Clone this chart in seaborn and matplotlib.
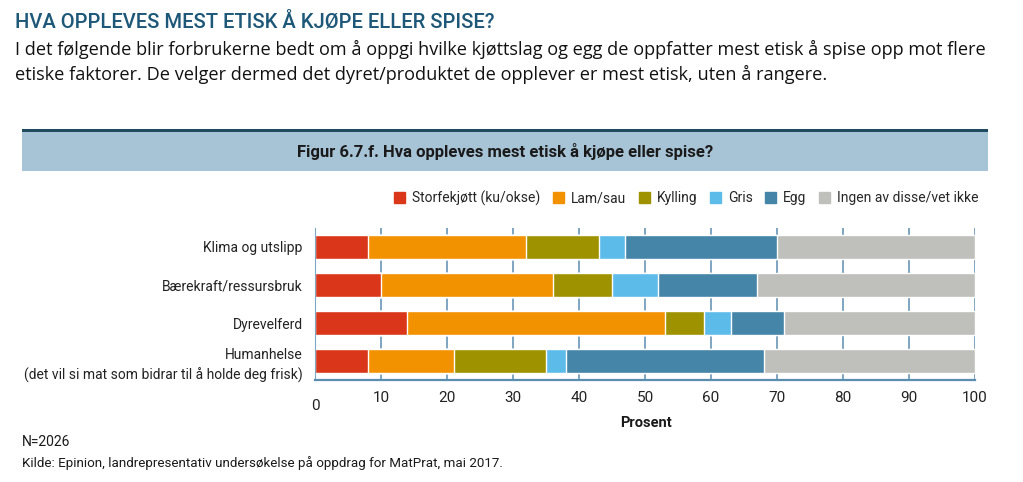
import matplotlib
matplotlib.use("Agg")
import matplotlib.pyplot as plt
import matplotlib.patches as mpatches
import seaborn as sns
import numpy as np
import pandas as pd

# Data
categories = ["Klima og utslipp", "Bærekraft/ressursbruk", "Dyrevelferd",
              "Humanhelse\n(det vil si mat som bidrar til å holde deg frisk)"]
series_names = ["Storfekjøtt (ku/okse)", "Lam/sau", "Kylling", "Gris", "Egg",
                "Ingen av disse/vet ikke"]
storfe = [8, 10, 14, 8]
lam = [24, 26, 39, 13]
kylling = [11, 9, 6, 14]
gris = [4, 7, 4, 3]
egg = [23, 15, 8, 30]
ingen = [30, 33, 29, 32]
colors = ["#d9361a", "#f39200", "#9e9200", "#5dbbea", "#4585a8", "#bfbfbb"]
xticks = [0, 10, 20, 30, 40, 50, 60, 70, 80, 90, 100]

sns.set_style("white")
plt.rcParams["font.family"] = ["Roboto", "DejaVu Sans"]

fig = plt.figure(figsize=(10.23, 4.82), dpi=100)
ax = fig.add_axes([0.308, 0.2116, 0.645, 0.3154])

# stacked bars: draw cumulative totals from the back
values = [storfe, lam, kylling, gris, egg, ingen]
cum = np.cumsum(np.array(values), axis=0)
for i in reversed(range(len(values))):
    df = pd.DataFrame({"cat": categories, "val": cum[i]})
    sns.barplot(data=df, x="val", y="cat", color=colors[i], width=0.64,
                saturation=1, orient="h", ax=ax, zorder=2)

ax.set_xlim(0, 100)
ax.set_ylim(3.5, -0.5)
ax.set_xticks(xticks)
ax.set_xticklabels([""] + [str(t) for t in xticks[1:]])
ax.grid(axis="x", color="#5b8db0", linewidth=1.1, zorder=0)
ax.set_axisbelow(True)
for s in ["top", "right"]:
    ax.spines[s].set_visible(False)
ax.spines["left"].set_color("#7fa6c2")
ax.spines["bottom"].set_color("#5b8db0")
ax.spines["bottom"].set_linewidth(1.6)
ax.tick_params(axis="x", length=0, pad=8, labelsize=11, labelcolor="#222222")
ax.tick_params(axis="y", length=0, pad=9, labelsize=10, labelcolor="#222222")
for lab in ax.get_yticklabels():
    lab.set_horizontalalignment("right")
    lab.set_multialignment("right")
    lab.set_linespacing(1.45)
ax.set_xlabel("")
ax.set_ylabel("")
ax.annotate("0", xy=(0, 0), xycoords=("data", "axes fraction"), xytext=(0, -19),
            textcoords="offset points", ha="center", va="center", fontsize=11,
            color="#222222")

# header texts
fig.text(0.015, 0.942, "HVA OPPLEVES MEST ETISK Å KJØPE ELLER SPISE?", fontsize=14.5,
         color="#1d5878", weight=500)
fig.text(0.015, 0.886, "I det følgende blir forbrukerne bedt om å oppgi hvilke kjøttslag "
         "og egg de oppfatter mest etisk å spise opp mot flere", fontsize=13.05,
         color="#111111", family=["Open Sans", "DejaVu Sans"])
fig.text(0.015, 0.834, "etiske faktorer. De velger dermed det dyret/produktet de opplever "
         "er mest etisk, uten å rangere.", fontsize=13.05, color="#111111",
         family=["Open Sans", "DejaVu Sans"])

# figure band
fig.patches.append(mpatches.Rectangle((0.0215, 0.645), 0.9443, 0.085,
                                      transform=fig.transFigure, facecolor="#a7c3d6",
                                      edgecolor="none"))
fig.patches.append(mpatches.Rectangle((0.0215, 0.727), 0.9443, 0.006,
                                      transform=fig.transFigure, facecolor="#1e4b5e",
                                      edgecolor="none"))
fig.text(0.494, 0.685, "Figur 6.7.f. Hva oppleves mest etisk å kjøpe eller spise?",
         ha="center", va="center", fontsize=12, weight="bold", color="#1a1a1a")

handles = [mpatches.Patch(color=c, label=n) for c, n in zip(colors, series_names)]
fig.legend(handles=handles, loc="center", bbox_to_anchor=(0.671, 0.589), ncol=6,
           frameon=False, fontsize=10, handlelength=0.8, handleheight=0.8,
           handletextpad=0.5, columnspacing=0.9)

fig.text(0.631, 0.122, "Prosent", ha="center", va="center", fontsize=10.5,
         weight="bold", color="#1a1a1a")
fig.text(0.0215, 0.075, "N=2026", fontsize=10, color="#1a1a1a")
fig.text(0.0215, 0.031, "Kilde: Epinion, landrepresentativ undersøkelse på oppdrag for "
         "MatPrat, mai 2017.", fontsize=9.6, color="#1a1a1a")

fig.savefig("out.png", dpi=100)
